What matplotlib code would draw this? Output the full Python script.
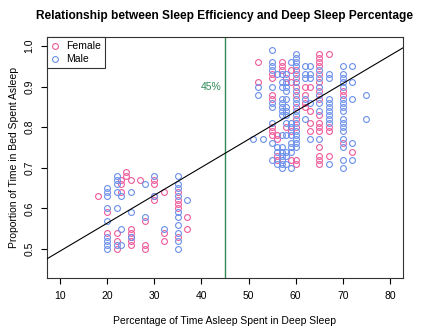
import numpy as np
import matplotlib
matplotlib.use("Agg")
import matplotlib.pyplot as plt
from matplotlib.lines import Line2D

plt.rcParams["font.family"] = ["Liberation Sans", "DejaVu Sans"]

# DATA  (deep sleep %, sleep efficiency), one list per column
female_pts = {
    18: [0.63],
    20: [0.59, 0.54],
    22: [0.54, 0.52, 0.50],
    23: [0.67, 0.66, 0.64],
    24: [0.69, 0.68],
    25: [0.67, 0.55, 0.54, 0.53, 0.52, 0.51],
    27: [0.67],
    28: [0.57, 0.51, 0.50],
    30: [0.67, 0.66, 0.63, 0.62],
    32: [0.64, 0.54, 0.52],
    35: [0.64, 0.62, 0.61, 0.60, 0.53],
    37: [0.58, 0.55],
    52: [0.96, 0.91],
    55: [0.93, 0.92, 0.88, 0.87, 0.80, 0.79, 0.78],
    56: [0.78, 0.77, 0.73, 0.72],
    57: [0.96, 0.95, 0.94],
    58: [0.92, 0.80],
    59: [0.94, 0.91, 0.79, 0.72],
    60: [0.94, 0.92, 0.90, 0.88, 0.85, 0.82, 0.80, 0.72, 0.71],
    62: [0.90, 0.88, 0.86, 0.85],
    63: [0.90, 0.84, 0.81, 0.79],
    65: [0.98, 0.97, 0.96, 0.95, 0.93, 0.91, 0.89, 0.87, 0.83, 0.81,
         0.80, 0.79, 0.75, 0.73, 0.72, 0.71],
    67: [0.98, 0.80, 0.79, 0.73],
    70: [0.89, 0.88, 0.76],
    72: [0.74],
}
male_pts = {
    20: [0.65, 0.64, 0.63, 0.60, 0.57, 0.53, 0.52, 0.51, 0.50],
    22: [0.68, 0.67, 0.66, 0.64, 0.60, 0.51],
    23: [0.63, 0.55, 0.51],
    25: [0.64, 0.59, 0.53],
    28: [0.66, 0.58],
    30: [0.68, 0.63],
    32: [0.55],
    35: [0.68, 0.66, 0.65, 0.63, 0.59, 0.58, 0.56, 0.54, 0.52, 0.50],
    37: [0.62],
    51: [0.77],
    52: [0.90, 0.88],
    53: [0.77],
    55: [0.99, 0.96, 0.95, 0.94, 0.90, 0.86, 0.85, 0.81, 0.76, 0.72],
    56: [0.93, 0.75, 0.74, 0.71],
    57: [0.93, 0.91, 0.90, 0.87, 0.86, 0.85, 0.84, 0.83, 0.78, 0.75,
         0.74, 0.73, 0.72, 0.71, 0.70],
    58: [0.93, 0.91, 0.90, 0.89, 0.87, 0.85, 0.84, 0.83, 0.81, 0.78,
         0.74, 0.73, 0.71],
    59: [0.96, 0.81, 0.80, 0.78, 0.76, 0.75, 0.74, 0.70],
    60: [0.98, 0.97, 0.96, 0.95, 0.93, 0.91, 0.89, 0.87, 0.86, 0.84,
         0.83, 0.81, 0.79, 0.78, 0.77, 0.76, 0.75],
    62: [0.95, 0.93, 0.92, 0.87, 0.82],
    63: [0.95, 0.93, 0.92, 0.86, 0.77],
    65: [0.94, 0.92, 0.90, 0.88, 0.86, 0.84, 0.77],
    67: [0.93, 0.92, 0.87, 0.86, 0.85, 0.84, 0.83, 0.82, 0.81, 0.71],
    70: [0.95, 0.93, 0.92, 0.91, 0.90, 0.87, 0.86, 0.85, 0.84, 0.82,
         0.81, 0.80, 0.79, 0.77, 0.75, 0.72, 0.70],
    72: [0.95, 0.91, 0.87, 0.76, 0.72],
    75: [0.88, 0.82],
}
CUTOFF = 45
# lm(efficiency ~ deep %) coefficients
FIT_INTERCEPT = 0.4265
FIT_SLOPE = 0.00687

FEMALE_COLOR = "#EE5A9A"
MALE_COLOR = "#6A8FEA"
CUT_COLOR = "#2E8B57"


def flatten(pts):
    xs = [x for x, ys in pts.items() for _ in ys]
    ys = [y for _, ys in pts.items() for y in ys]
    return np.array(xs, float), np.array(ys, float)


fx, fy = flatten(female_pts)
mx, my = flatten(male_pts)

fig = plt.figure(figsize=(4.24, 3.32), dpi=100)
ax = fig.add_axes([0.1108, 0.1617, 0.8397, 0.7269])

ax.plot(fx, fy, "o", mfc="none", mec=FEMALE_COLOR, mew=0.8, ms=4.2, zorder=3)
ax.plot(mx, my, "o", mfc="none", mec=MALE_COLOR, mew=0.8, ms=4.2, zorder=3)

xlim = (7.2, 82.8)
ax.set_xlim(xlim)
ax.set_ylim(0.428, 1.022)
xl = np.array(xlim)
ax.plot(xl, FIT_INTERCEPT + FIT_SLOPE * xl, color="black", lw=0.8, zorder=4)
ax.axvline(CUTOFF, color=CUT_COLOR, lw=1.0, zorder=2)
ax.text(42, 0.9, f"{CUTOFF}%", color=CUT_COLOR, fontsize=7.5,
        ha="center", va="center")

ax.set_xticks(range(10, 81, 10))
ax.set_yticks([0.5, 0.6, 0.7, 0.8, 0.9, 1.0])
ax.set_yticklabels(["0.5", "0.6", "0.7", "0.8", "0.9", "1.0"],
                   rotation=90, va="center")
ax.tick_params(direction="out", length=4, width=0.8, labelsize=7.5, pad=5)
for s in ax.spines.values():
    s.set_linewidth(0.8)
    s.set_color("#333333")

ax.set_xlabel("Percentage of Time Asleep Spent in Deep Sleep", fontsize=7.5,
              labelpad=11)
ax.set_ylabel("Proportion of Time in Bed Spent Asleep", fontsize=7.5,
              labelpad=4)
ax.set_title("Relationship between Sleep Efficiency and Deep Sleep Percentage",
             fontsize=8.6, fontweight="bold", pad=13)

handles = [
    Line2D([], [], ls="none", marker="o", mfc="none", mec=FEMALE_COLOR,
           mew=0.8, ms=4.2, label="Female"),
    Line2D([], [], ls="none", marker="o", mfc="none", mec=MALE_COLOR,
           mew=0.8, ms=4.2, label="Male"),
]
leg = ax.legend(handles=handles, loc="upper left", fontsize=7.5,
                fancybox=False, edgecolor="#333333", framealpha=1,
                borderaxespad=0, handlelength=0.8, handletextpad=0.6,
                borderpad=0.4, labelspacing=0.3)
leg.get_frame().set_linewidth(0.8)

fig.savefig("out.png", dpi=100)
